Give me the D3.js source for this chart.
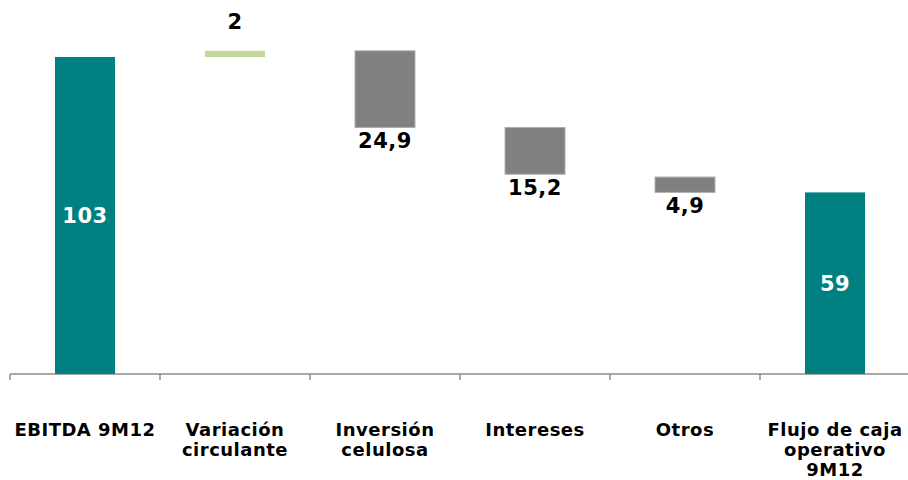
<!DOCTYPE html>
<html>
<head>
<meta charset="utf-8">
<script src="https://cdn.jsdelivr.net/npm/d3@7"></script>
<style>
  body { margin: 0; background: #fff; }
  text { font-family: "DejaVu Sans", Verdana, sans-serif; font-weight: bold; }
</style>
</head>
<body>
<svg id="chart" width="908" height="480"></svg>
<script>
    // categories (one entry per line of the label)
    const categories = [
        ["EBITDA 9M12"],
        ["Variación", "circulante"],
        ["Inversión", "celulosa"],
        ["Intereses"],
        ["Otros"],
        ["Flujo de caja", "operativo", "9M12"]
    ];

    // bar start / end values
    const barStart = [0, 103, 105, 80.1, 64, 0];
    const barEnd = [103, 105, 80.1, 64.9, 59, 59];
    const valueLabels = ["103", "2", "24,9", "15,2", "4,9", "59"];
    const barKind = ["total", "up", "down", "down", "down", "total"];

    const colors = { total: "#008080", up: "#c3d69b", down: "#808080" };

    const svg = d3.select("#chart");
    const keys = categories.map((c, i) => i);

    const x = d3.scaleBand()
        .domain(keys)
        .range([10, 910])
        .paddingInner(0.6)
        .paddingOuter(0.3);

    const step = x.step();
    const y = d3.scaleLinear()
        .domain([0, 120])
        .range([374, 374 - 120 * 3.078]);

    // axis line and ticks at category boundaries
    const axis = svg.append("g").attr("class", "axis");
    axis.append("line")
        .attr("x1", 10).attr("x2", 908)
        .attr("y1", y(0)).attr("y2", y(0))
        .attr("stroke", "#8c8c8c").attr("stroke-width", 1.5);
    axis.selectAll(".tick")
        .data(d3.range(keys.length + 1))
        .join("line")
        .attr("class", "tick")
        .attr("x1", i => 10 + i * step).attr("x2", i => 10 + i * step)
        .attr("y1", y(0)).attr("y2", y(0) + 6)
        .attr("stroke", "#8c8c8c").attr("stroke-width", 1.5);

    // bars
    svg.append("g")
        .selectAll("rect")
        .data(keys)
        .join("rect")
        .attr("x", i => x(i))
        .attr("width", x.bandwidth())
        .attr("y", i => y(Math.max(barStart[i], barEnd[i])))
        .attr("height", i => Math.abs(y(barStart[i]) - y(barEnd[i])))
        .attr("fill", i => colors[barKind[i]])
        .attr("stroke", i => barKind[i] == "down" ? "#b0b0b0" : "none")
        .attr("stroke-width", 1);

    // value labels
    svg.append("g")
        .selectAll("text")
        .data(keys)
        .join("text")
        .attr("x", i => x(i) + x.bandwidth() / 2)
        .attr("y", i => {
            const top = y(Math.max(barStart[i], barEnd[i]));
            const bottom = y(Math.min(barStart[i], barEnd[i]));
            if (barKind[i] == "total") return (top + bottom) / 2 + 7.5;
            if (barKind[i] == "up") return top - 22;
            return bottom + 21;
        })
        .attr("text-anchor", "middle")
        .attr("font-size", "21px")
        .attr("letter-spacing", "0.5px")
        .attr("fill", i => barKind[i] == "total" ? "#fff" : "#000")
        .text(i => valueLabels[i]);

    // category labels
    const catLabels = svg.append("g")
        .selectAll("text")
        .data(keys)
        .join("text")
        .attr("x", i => x(i) + x.bandwidth() / 2)
        .attr("y", 436)
        .attr("text-anchor", "middle")
        .attr("font-size", "18px")
        .attr("letter-spacing", "0.5px")
        .attr("fill", "#000");

    catLabels.selectAll("tspan")
        .data(i => categories[i].map(line => ({ line, i })))
        .join("tspan")
        .attr("x", d => x(d.i) + x.bandwidth() / 2)
        .attr("dy", (d, j) => j == 0 ? 0 : 20)
        .text(d => d.line);
</script>
</body>
</html>
